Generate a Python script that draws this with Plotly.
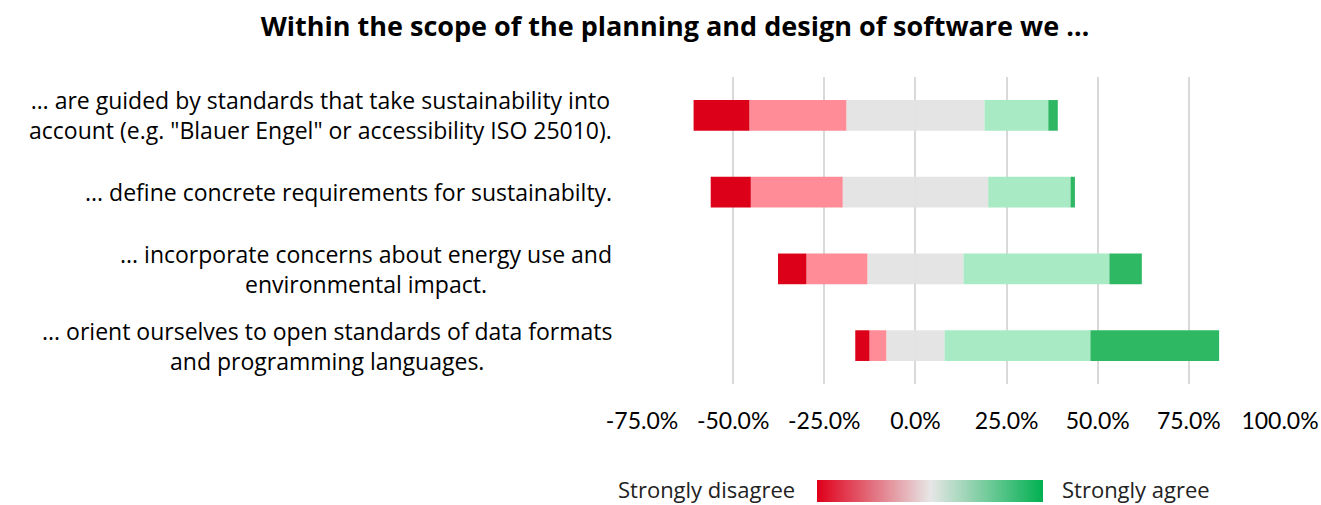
import plotly.graph_objects as go

categories = [
    "… are guided by standards that take sustainability into<br>account (e.g. \"Blauer Engel\" or accessibility ISO 25010).",
    "... define concrete requirements for sustainabilty.",
    "... incorporate concerns about energy use and<br>environmental impact.",
    "... orient ourselves to open standards of data formats<br>and programming languages.",
]
keys = ["c1", "c2", "c3", "c4"]

strongly_disagree = [15.3, 11.0, 7.8, 3.9]
disagree = [26.6, 25.2, 16.7, 4.6]
neutral = [37.9, 39.9, 26.4, 16.0]
agree = [17.5, 22.6, 40.0, 40.0]
strongly_agree = [2.6, 1.2, 8.9, 35.3]

tick_vals = [-75, -50, -25, 0, 25, 50, 75, 100]
tick_text = ["-75.0%", "-50.0%", "-25.0%", "0.0%", "25.0%", "50.0%", "75.0%", "100.0%"]

legend_ramp = [[0, 1, 2]]

C_SD = "#DC0019"
C_D = "#FF8C96"
C_N = "#E4E4E4"
C_A = "#A8EAC4"
C_SA = "#2EB864"

FONT = "Open Sans"
TICK_FONT = "Lato"
OFF = 0                      # body margin removed via post_script
W, H = 1321 - OFF, 505 - OFF

# target positions (screen px of the reference)
PL, PR, PT, PB = 642, 1280, 77, 384
L = PL - OFF
R = W - (PR - OFF)
T = PT - OFF
B = 3
PH = H - T - B
PW = W - L - R


def py(y):  # screen y -> paper fraction
    return (H - B - (y - OFF)) / PH


def px(x):  # screen x -> paper fraction
    return (x - OFF - L) / PW


fig = go.Figure()


def add(vals, color, sign):
    fig.add_trace(go.Bar(
        y=keys, x=[sign * v for v in vals], orientation="h",
        marker=dict(color=color, line=dict(width=0)),
        width=0.4, showlegend=False, hoverinfo="skip",
    ))


add([v / 2 for v in neutral], C_N, -1)
add([v / 2 for v in neutral], C_N, 1)
add(disagree, C_D, -1)
add(agree, C_A, 1)
add(strongly_disagree, C_SD, -1)
add(strongly_agree, C_SA, 1)

# gradient legend
fig.add_trace(go.Heatmap(
    z=legend_ramp, x=[0, 1, 2], y=[0], xaxis="x2", yaxis="y2",
    colorscale=[[0, "#E0001B"], [0.5, "#E6E6E6"], [1, "#00B050"]],
    zsmooth="best", showscale=False, hoverinfo="skip",
))

annotations = []
for k, label in zip(keys, categories):
    annotations.append(dict(
        x=px(614), xref="paper", xanchor="right",
        y=k, yref="y", yanchor="middle",
        text=label, showarrow=False, align="center",
        font=dict(family=FONT, size=23, color="#000000"),
    ))

annotations.append(dict(
    x=px(797), xref="paper", xanchor="right",
    y=py(489), yref="paper", yanchor="middle",
    text="Strongly disagree", showarrow=False,
    font=dict(family=FONT, size=22, color="#222222"),
))
annotations.append(dict(
    x=px(1060), xref="paper", xanchor="left",
    y=py(489), yref="paper", yanchor="middle",
    text="Strongly agree", showarrow=False,
    font=dict(family=FONT, size=22, color="#222222"),
))

fig.update_layout(
    width=W, height=H,
    margin=dict(l=L, r=R, t=T, b=B, autoexpand=False),
    barmode="relative",
    plot_bgcolor="white", paper_bgcolor="white",
    title=dict(
        text="<b>Within the scope of the planning and design of software we …</b>",
        x=(675 - OFF) / W, xanchor="center", y=1 - (27 - OFF) / H, yanchor="middle",
        font=dict(family=FONT, size=27, color="#000000"),
    ),
    xaxis=dict(
        domain=[0, 1], automargin=False,
        range=[-75, 100], tickvals=tick_vals, ticktext=tick_text,
        showgrid=True, gridcolor="#D9D9D9", gridwidth=1.5,
        zeroline=False, showline=False,
        ticks="outside", ticklen=16, tickcolor="rgba(0,0,0,0)",
        tickfont=dict(family=TICK_FONT, size=23, color="#000000"),
    ),
    yaxis=dict(
        domain=[py(PB), 1], automargin=False,
        autorange="reversed", showticklabels=False, showgrid=False,
        zeroline=False, showline=False,
    ),
    xaxis2=dict(
        domain=[px(817), px(1043)], anchor="y2", range=[0, 2],
        visible=False, fixedrange=True,
    ),
    yaxis2=dict(
        domain=[py(502), py(480)], anchor="x2", range=[-0.5, 0.5],
        visible=False, fixedrange=True,
    ),
    annotations=annotations,
)

fig.write_html(
    "out.html",
    config={"displayModeBar": False},
    post_script="document.body.style.margin='0';document.body.style.overflow='hidden';",
)
